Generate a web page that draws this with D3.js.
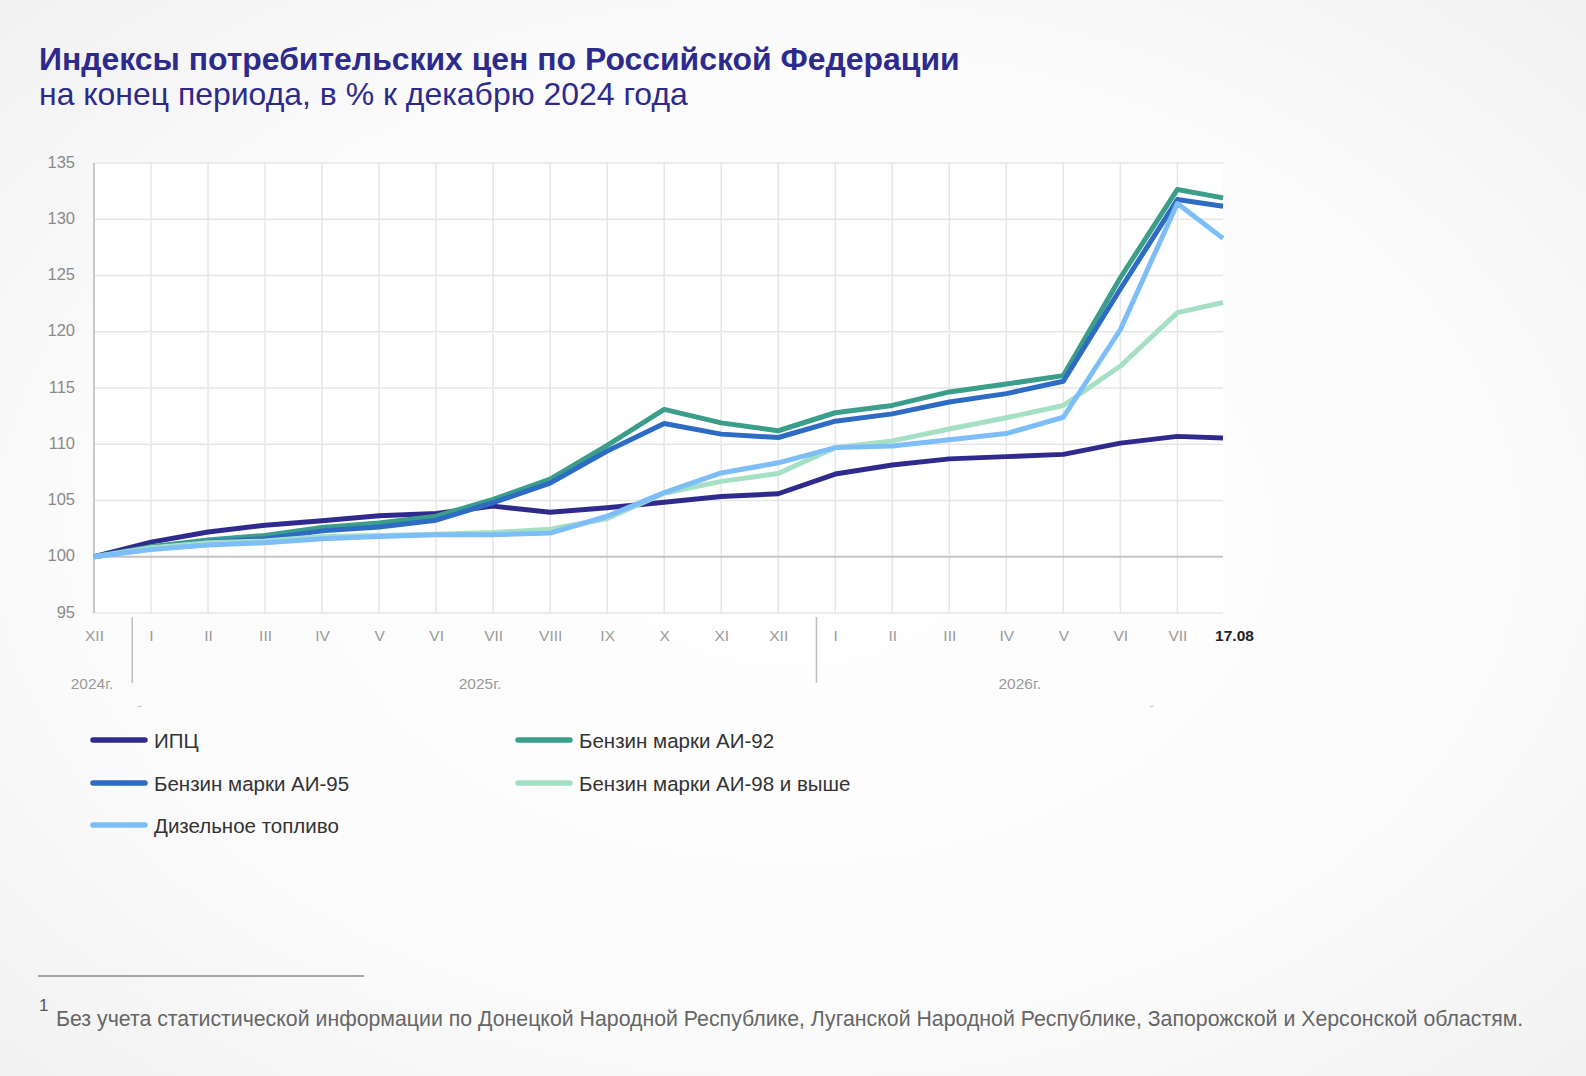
<!DOCTYPE html>
<html>
<head>
<meta charset="utf-8">
<script src="https://cdn.jsdelivr.net/npm/d3@7"></script>
<style>
  html, body { margin: 0; padding: 0; background: #fff; }
  svg { display: block; font-family: "Liberation Sans", Arial, sans-serif; }
</style>
</head>
<body>
<div id="chart"></div>
<script>
// Подписи оси X (месяцы) и их позиции в месяцах от декабря 2024
const monthLabels = ["XII", "I", "II", "III", "IV", "V", "VI", "VII", "VIII", "IX", "X", "XI", "XII",
  "I", "II", "III", "IV", "V", "VI", "VII", "17.08"];
const monthPos = [0, 1, 2, 3, 4, 5, 6, 7, 8, 9, 10, 11, 12, 13, 14, 15, 16, 17, 18, 19, 19.8];

const yTicks = [95, 100, 105, 110, 115, 120, 125, 130, 135];

// Годы и границы между ними (в тех же единицах, что monthPos)
const years = ["2024г.", "2025г.", "2026г."];
const yearBreaks = [0.67, 12.67];

// Ряды, в % к декабрю 2024
const cpi = [100, 101.3, 102.2, 102.8, 103.2, 103.65, 103.85, 104.5, 103.95, 104.35, 104.85, 105.35, 105.6,
  107.35, 108.15, 108.7, 108.9, 109.1, 110.1, 110.7, 110.55];
const ai92 = [100, 100.9, 101.5, 101.9, 102.6, 103.0, 103.6, 105.1, 106.9, 109.9, 113.1, 111.9, 111.2,
  112.8, 113.45, 114.65, 115.35, 116.1, 124.8, 132.65, 131.9];
const ai95 = [100, 100.8, 101.3, 101.6, 102.3, 102.65, 103.25, 104.8, 106.55, 109.4, 111.85, 110.9, 110.6,
  112.05, 112.7, 113.75, 114.5, 115.6, 123.8, 131.75, 131.15];
const ai98 = [100, 100.8, 101.25, 101.4, 101.8, 101.9, 102.0, 102.15, 102.45, 103.4, 105.65, 106.7, 107.4,
  109.7, 110.3, 111.35, 112.35, 113.45, 116.95, 121.7, 122.6];
const diesel = [100, 100.65, 101.05, 101.25, 101.6, 101.8, 101.95, 101.95, 102.1, 103.6, 105.7, 107.45, 108.35,
  109.7, 109.85, 110.4, 110.95, 112.4, 120.2, 131.4, 128.3];

const seriesNames = ["ИПЦ", "Бензин марки АИ-92", "Бензин марки АИ-95", "Бензин марки АИ-98 и выше", "Дизельное топливо"];
const seriesValues = [cpi, ai92, ai95, ai98, diesel];
const seriesColors = ["#2f2b8e", "#3a9e8a", "#2e6bc4", "#a6e0c4", "#7dbdf8"];

const width = 1586, height = 1076;
const margin = { left: 94, right: 1586 - 1223, top: 163, bottom: 1076 - 613 };

let svg = d3.select("#chart").append("svg")
  .attr("width", width)
  .attr("height", height);

// фон с лёгким затемнением к краям
let defs = svg.append("defs");
let grad = defs.append("radialGradient").attr("id", "bg")
  .attr("cx", "50%").attr("cy", "50%").attr("r", "75%");
grad.append("stop").attr("offset", "0%").attr("stop-color", "#ffffff");
grad.append("stop").attr("offset", "60%").attr("stop-color", "#fbfbfb");
grad.append("stop").attr("offset", "100%").attr("stop-color", "#f0f0f0");
svg.append("rect").attr("width", width).attr("height", height).attr("fill", "url(#bg)");

let x = d3.scaleLinear().domain([0, 19.8]).range([margin.left, width - margin.right]);
let y = d3.scaleLinear().domain([95, 135]).range([height - margin.bottom, margin.top]);

// подгонка шрифта под нужную ширину
function fitWidth(sel, target) {
  let w = sel.node().getComputedTextLength();
  let fs = parseFloat(sel.attr("font-size"));
  sel.attr("font-size", (fs * target / w).toFixed(2));
}

// Заголовок
let title = svg.append("text")
  .attr("x", 39).attr("y", 70)
  .attr("font-size", 28).attr("font-weight", "bold")
  .attr("fill", "#2d2a8e")
  .text("Индексы потребительских цен по Российской Федерации");
fitWidth(title, 921);

let subtitle = svg.append("text")
  .attr("x", 39).attr("y", 105)
  .attr("font-size", 26)
  .attr("fill", "#2d2a8e")
  .text("на конец периода, в % к декабрю 2024 года");
fitWidth(subtitle, 649);

// Сетка
let g = svg.append("g");
g.append("rect")
  .attr("x", x(0)).attr("y", y(135))
  .attr("width", x(19.8) - x(0)).attr("height", y(95) - y(135))
  .attr("fill", "#ffffff");

g.selectAll(".vgrid").data(monthPos.slice(1, 20))
  .join("line")
  .attr("x1", d => x(d)).attr("x2", d => x(d))
  .attr("y1", y(135)).attr("y2", y(95))
  .attr("stroke", "#e6e6e6").attr("stroke-width", 1.5);

g.selectAll(".hgrid").data(yTicks)
  .join("line")
  .attr("x1", x(0)).attr("x2", x(19.8))
  .attr("y1", d => y(d)).attr("y2", d => y(d))
  .attr("stroke", d => d === 100 ? "#c4c4c4" : "#e6e6e6")
  .attr("stroke-width", d => d === 100 ? 2 : 1.5);

g.append("line")
  .attr("x1", x(0)).attr("x2", x(0))
  .attr("y1", y(135)).attr("y2", y(95))
  .attr("stroke", "#c8c8c8").attr("stroke-width", 2);

// Ось Y
let yAxis = d3.axisLeft(y).tickValues(yTicks).tickSize(0).tickPadding(19);
svg.append("g")
  .attr("transform", `translate(${x(0)},0)`)
  .call(yAxis)
  .call(a => a.select(".domain").remove())
  .call(a => a.selectAll("text")
    .attr("font-family", "Liberation Sans, Arial, sans-serif")
    .attr("font-size", 16.5)
    .attr("fill", "#8a8a8a")
    .attr("dy", "0.25em"));

// Ось X
let xAxis = d3.axisBottom(x).tickValues(monthPos).tickSize(0).tickPadding(17)
  .tickFormat((d, i) => monthLabels[i]);
svg.append("g")
  .attr("transform", `translate(0,${y(95)})`)
  .call(xAxis)
  .call(a => a.select(".domain").remove())
  .call(a => a.selectAll("text")
    .attr("font-family", "Liberation Sans, Arial, sans-serif")
    .attr("font-size", 15.5)
    .attr("fill", (d, i) => i === monthLabels.length - 1 ? "#222" : "#9a9a9a")
    .attr("font-weight", (d, i) => i === monthLabels.length - 1 ? "bold" : "normal")
    .attr("dx", (d, i) => i === monthLabels.length - 1 ? 11 : 0));

// Разделители лет
svg.selectAll(".ybreak").data(yearBreaks)
  .join("line")
  .attr("x1", d => x(d)).attr("x2", d => x(d))
  .attr("y1", 617).attr("y2", 683)
  .attr("stroke", "#bdbdbd").attr("stroke-width", 1.5);

let yearCenters = [0, (yearBreaks[0] + yearBreaks[1]) / 2 + 0.1, (yearBreaks[1] + 19.8) / 2];
svg.selectAll(".ylabel").data(years)
  .join("text")
  .attr("x", (d, i) => x(yearCenters[i]) - (i === 0 ? 2 : 0))
  .attr("y", 689)
  .attr("text-anchor", "middle")
  .attr("font-size", 15.5)
  .attr("fill", "#9a9a9a")
  .text(d => d);

// маленькие штрихи под осью
[x(0.8), x(18.55)].forEach(px => {
  svg.append("line")
    .attr("x1", px - 2).attr("x2", px + 2)
    .attr("y1", 707).attr("y2", 706)
    .attr("stroke", "#c0c0c0").attr("stroke-width", 1);
});

// Линии
let line = d3.line()
  .x((d, i) => x(monthPos[i]))
  .y(d => y(d));

svg.append("g").selectAll("path").data(seriesValues)
  .join("path")
  .attr("d", d => line(d))
  .attr("fill", "none")
  .attr("stroke", (d, i) => seriesColors[i])
  .attr("stroke-width", 5)
  .attr("stroke-linejoin", "round")
  .attr("stroke-linecap", "butt");

// Легенда
let legendPos = [
  { lx: 91, ly: 740 }, { lx: 516, ly: 740 },
  { lx: 91, ly: 783 }, { lx: 516, ly: 783 },
  { lx: 91, ly: 825 }
];
let legend = svg.append("g").selectAll("g").data(seriesNames)
  .join("g")
  .attr("transform", (d, i) => `translate(${legendPos[i].lx},${legendPos[i].ly})`);
legend.append("line")
  .attr("x1", 2).attr("x2", 54)
  .attr("stroke", (d, i) => seriesColors[i])
  .attr("stroke-width", 5.5)
  .attr("stroke-linecap", "round");
legend.append("text")
  .attr("x", 63).attr("y", 7.5)
  .attr("font-size", 20.5)
  .attr("fill", "#333")
  .text(d => d);

// Сноска
svg.append("line")
  .attr("x1", 38).attr("x2", 364)
  .attr("y1", 976).attr("y2", 976)
  .attr("stroke", "#555").attr("stroke-width", 1);
svg.append("text")
  .attr("x", 39).attr("y", 1011)
  .attr("font-size", 17)
  .attr("fill", "#555")
  .text("1");
let note = svg.append("text")
  .attr("x", 56).attr("y", 1026)
  .attr("font-size", 19)
  .attr("fill", "#666")
  .text("Без учета статистической информации по Донецкой Народной Республике, Луганской Народной Республике, Запорожской и Херсонской областям.");
fitWidth(note, 1468);
</script>
</body>
</html>
